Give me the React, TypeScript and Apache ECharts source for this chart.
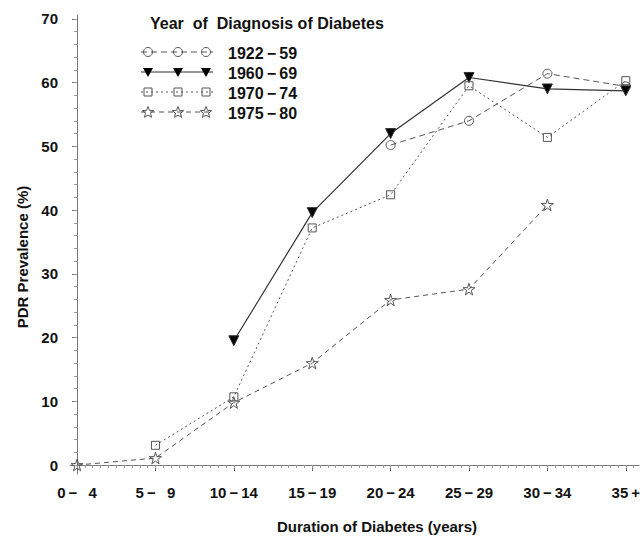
import React, { useEffect, useRef } from 'react';
import * as echarts from 'echarts';

const TS = '\u2009';
const categories = ['0' + TS + '\u2212' + TS + '\u20074', '5' + TS + '\u2212' + TS + '\u20079', '10' + TS + '\u2212' + TS + '14', '15' + TS + '\u2212' + TS + '19', '20' + TS + '\u2212' + TS + '24', '25' + TS + '\u2212' + TS + '29', '30' + TS + '\u2212' + TS + '34', '35' + TS + '+'];
const yTickValues = [0, 10, 20, 30, 40, 50, 60, 70];
const seriesNames = ['1922' + TS + '\u2212' + TS + '59', '1960' + TS + '\u2212' + TS + '69', '1970' + TS + '\u2212' + TS + '74', '1975' + TS + '\u2212' + TS + '80'];
const s1922 = [null, null, null, null, 50.2, 54.0, 61.4, 59.4];
const s1960 = [null, null, 19.5, 39.6, 52.0, 60.8, 59.0, 58.7];
const s1970 = [null, 3.1, 10.7, 37.2, 42.4, 59.5, 51.4, 60.3];
const s1975 = [0, 1.1, 9.8, 16.0, 25.9, 27.6, 40.8, null];

const STAR = 'path://M50,2 L61,37 L98,37 L68,59 L79,95 L50,73 L21,95 L32,59 L2,37 L39,37 Z';
const FONT = 'Liberation Sans';

function toPairs(vals: (number | null)[]) {
  const out: number[][] = [];
  vals.forEach((v, i) => { if (v !== null) out.push([i, v]); });
  return out;
}

function starPts(cx: number, cy: number, R: number, r: number) {
  const pts: number[][] = [];
  for (let k = 0; k < 10; k++) {
    const a = -Math.PI / 2 + (k * Math.PI) / 5;
    const rr = k % 2 === 0 ? R : r;
    pts.push([cx + rr * Math.cos(a), cy + rr * Math.sin(a)]);
  }
  return pts;
}

export default function App() {
  const ref = useRef<HTMLDivElement>(null);
  useEffect(() => {
    if (!ref.current) return;
    const chart = echarts.init(ref.current, null, { renderer: 'svg' });
    const minorX: number[] = [];
    for (let k = 0; k <= 71; k++) minorX.push(k / 10);
    const minorY: number[] = [];
    for (let k = 0; k <= 35; k++) minorY.push(k * 2);

    const seriesDefs = [
      { name: seriesNames[0], data: s1922, symbol: 'circle', size: 9, rotate: 0, fill: 'transparent', type: [6, 4], color: '#555', width: 1 },
      { name: seriesNames[1], data: s1960, symbol: 'triangle', size: 10, rotate: 180, fill: '#000', type: 'solid', color: '#333', width: 1.2 },
      { name: seriesNames[2], data: s1970, symbol: 'rect', size: 8, rotate: 0, fill: 'transparent', type: [2, 3], color: '#555', width: 1 },
      { name: seriesNames[3], data: s1975, symbol: STAR, size: 12, rotate: 0, fill: 'transparent', type: [5, 4], color: '#555', width: 1 },
    ];

    const legendRows = [52, 72, 92, 112];
    const legendXs = [148, 178, 206];
    const els: any[] = [
      { type: 'text', x: 150, y: 23, style: { text: 'Year  of  Diagnosis of Diabetes', font: `bold 16px "${FONT}"`, fill: '#111', verticalAlign: 'middle' } },
      { type: 'text', x: 377, y: 526, style: { text: 'Duration of Diabetes (years)', font: `bold 15px "${FONT}"`, fill: '#111', align: 'center', verticalAlign: 'middle' } },
      { type: 'text', x: 22, y: 257, rotation: Math.PI / 2, style: { text: 'PDR Prevalence (%)', font: `bold 15px "${FONT}"`, fill: '#111', align: 'center', verticalAlign: 'middle' } },
    ];
    seriesDefs.forEach((d, i) => {
      const y = legendRows[i];
      els.push({ type: 'line', shape: { x1: 141, y1: y, x2: 213, y2: y }, style: { stroke: d.color, lineWidth: d.width, lineDash: d.type === 'solid' ? null : d.type } });
      legendXs.forEach((x) => {
        if (i === 0) els.push({ type: 'circle', shape: { cx: x, cy: y, r: 4.5 }, style: { fill: 'transparent', stroke: '#555', lineWidth: 1 } });
        if (i === 1) els.push({ type: 'polygon', shape: { points: [[x - 5, y - 4], [x + 5, y - 4], [x, y + 5]] }, style: { fill: '#000' } });
        if (i === 2) els.push({ type: 'rect', shape: { x: x - 4, y: y - 4, width: 8, height: 8 }, style: { fill: 'transparent', stroke: '#555', lineWidth: 1 } });
        if (i === 3) els.push({ type: 'polygon', shape: { points: starPts(x, y + 0.5, 6, 2.6) }, style: { fill: 'transparent', stroke: '#555', lineWidth: 1 } });
      });
      els.push({ type: 'text', x: 228, y: y + 1, style: { text: d.name, font: `bold 16px "${FONT}"`, fill: '#111', verticalAlign: 'middle' } });
    });

    chart.setOption({
      animation: false,
      backgroundColor: '#fff',
      grid: { left: 70, right: 3, top: 15, bottom: 64, containLabel: false },
      xAxis: [
        {
          type: 'value', min: -0.09, max: 7.17,
          axisLine: { show: true, lineStyle: { color: '#777', width: 1 } },
          axisTick: { show: true, customValues: [0, 1, 2, 3, 4, 5, 6, 7], length: 6, lineStyle: { color: '#666' } },
          axisLabel: { show: true, customValues: [0, 1, 2, 3, 4, 5, 6, 7], margin: 11, formatter: (v: number) => categories[Math.round(v)] ?? '', fontFamily: FONT, fontWeight: 'bold', fontSize: 15, color: '#111' },
          splitLine: { show: false },
        },
        {
          type: 'value', min: -0.09, max: 7.17, position: 'bottom',
          axisLine: { show: false },
          axisTick: { show: true, customValues: minorX, length: 3, lineStyle: { color: '#999' } },
          axisLabel: { show: false },
          splitLine: { show: false },
        },
      ],
      yAxis: [
        {
          type: 'value', min: -1.4, max: 70.6,
          axisLine: { show: true, lineStyle: { color: '#777', width: 1 } },
          axisTick: { show: true, customValues: yTickValues, length: 5, lineStyle: { color: '#666' } },
          axisLabel: { show: true, customValues: yTickValues, margin: 12, fontFamily: FONT, fontWeight: 'bold', fontSize: 15, color: '#111' },
          splitLine: { show: false },
        },
        {
          type: 'value', min: -1.4, max: 70.6, position: 'left',
          axisLine: { show: false },
          axisTick: { show: true, customValues: minorY, length: 3, lineStyle: { color: '#999' } },
          axisLabel: { show: false },
          splitLine: { show: false },
        },
      ],
      series: seriesDefs.map((d) => ({
        name: d.name,
        type: 'line',
        data: toPairs(d.data),
        symbol: d.symbol,
        symbolSize: d.size,
        symbolRotate: d.rotate,
        symbolKeepAspect: true,
        showAllSymbol: true,
        lineStyle: { color: d.color, width: d.width, type: d.type },
        itemStyle: { color: d.fill, borderColor: d.color, borderWidth: 1 },
        emphasis: { disabled: true },
      })),
      graphic: els,
    });
    return () => chart.dispose();
  }, []);
  return <div ref={ref} style={{ position: 'fixed', left: 0, top: 0, width: 643, height: 538, background: '#fff' }} />;
}
